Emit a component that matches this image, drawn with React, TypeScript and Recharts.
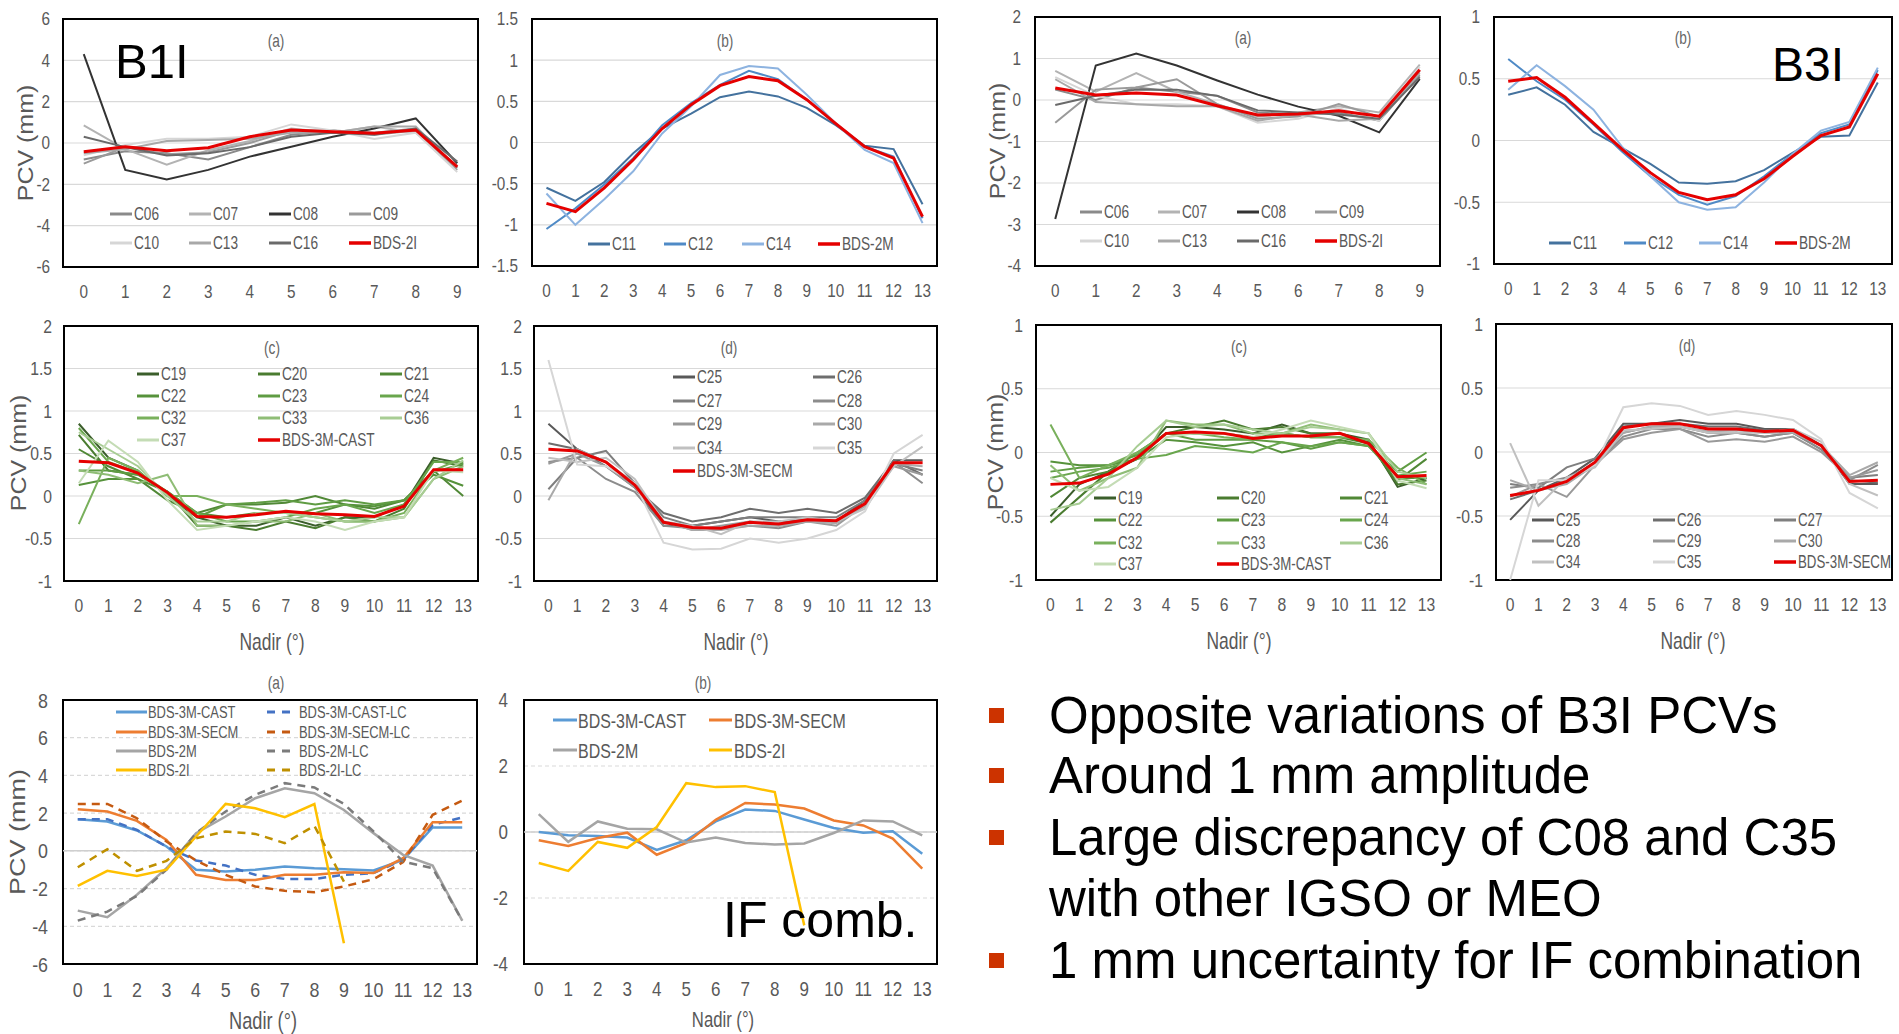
import React from 'react';
import { LineChart, Line, XAxis, YAxis, CartesianGrid, ReferenceArea, ReferenceLine } from 'recharts';

const FONT = '"Liberation Sans", Arial, "DejaVu Sans", sans-serif';
const SQ = 0.76; // horizontal squash of chart texts
const SQT = 0.85; // squash for tick digits
const RED = '#e50000';
const TXT = '#595959';

// categories (nadir angle, degrees)
const nadir10 = [0, 1, 2, 3, 4, 5, 6, 7, 8, 9];
const nadir14 = [0, 1, 2, 3, 4, 5, 6, 7, 8, 9, 10, 11, 12, 13];

// y tick labels
const ticksB1a = [-6, -4, -2, 0, 2, 4, 6];
const ticksB1b = [-1.5, -1, -0.5, 0, 0.5, 1, 1.5];
const ticksB3a = [-4, -3, -2, -1, 0, 1, 2];
const ticksPm1 = [-1, -0.5, 0, 0.5, 1];
const ticksM1to2 = [-1, -0.5, 0, 0.5, 1, 1.5, 2];
const ticksIFa = [-6, -4, -2, 0, 2, 4, 6, 8];
const ticksIFb = [-4, -2, 0, 2, 4];

// ---- B1I (a) IGSO ----
const b1a_C06 = [-0.8, -0.4, -0.5, -0.8, -0.2, 0.4, 0.6, 0.5, 0.7, -1.2];
const b1a_C07 = [0.85, -0.3, -1.05, -0.35, 0.1, 0.7, 0.5, 0.8, 0.5, -1.1];
const b1a_C08 = [4.3, -1.3, -1.76, -1.3, -0.66, -0.18, 0.3, 0.7, 1.19, -0.98];
const b1a_C09 = [-1.0, -0.2, -0.55, -0.45, 0.0, 0.6, 0.6, 0.4, 0.6, -1.3];
const b1a_C10 = [-0.6, -0.1, 0.2, 0.2, 0.3, 0.9, 0.6, 0.2, 0.5, -1.4];
const b1a_C13 = [-0.5, -0.3, 0.1, 0.15, 0.2, 0.5, 0.5, 0.8, 0.8, -1.2];
const b1a_C16 = [0.3, -0.2, -0.6, -0.5, -0.2, 0.3, 0.5, 0.4, 0.7, -0.9];
const b1a_BDS2I = [-0.42, -0.18, -0.37, -0.23, 0.3, 0.63, 0.55, 0.47, 0.63, -1.15];

// ---- B1I (b) MEO ----
const b1b_C11 = [-0.55, -0.71, -0.48, -0.13, 0.17, 0.35, 0.55, 0.62, 0.56, 0.42, 0.21, -0.04, -0.08, -0.75];
const b1b_C12 = [-1.05, -0.8, -0.51, -0.19, 0.21, 0.48, 0.7, 0.87, 0.77, 0.52, 0.23, -0.05, -0.17, -0.92];
const b1b_C14 = [-0.62, -1.0, -0.69, -0.35, 0.11, 0.44, 0.82, 0.93, 0.9, 0.58, 0.23, -0.09, -0.25, -0.98];
const b1b_BDS2M = [-0.74, -0.84, -0.55, -0.21, 0.17, 0.46, 0.69, 0.8, 0.75, 0.52, 0.23, -0.05, -0.19, -0.9];

// ---- B3I (a) IGSO ----
const b3a_C06 = [0.25, 0.0, 0.3, 0.2, 0.1, -0.3, -0.35, -0.3, -0.5, 0.6];
const b3a_C07 = [0.7, 0.2, 0.65, 0.2, -0.1, -0.4, -0.3, -0.15, -0.3, 0.85];
const b3a_C08 = [-2.87, 0.83, 1.12, 0.83, 0.47, 0.13, -0.16, -0.38, -0.78, 0.51];
const b3a_C09 = [-0.55, 0.25, 0.3, 0.5, -0.1, -0.45, -0.4, -0.1, -0.4, 0.7];
const b3a_C10 = [0.55, 0.1, -0.1, -0.1, -0.15, -0.55, -0.45, -0.2, -0.5, 0.8];
const b3a_C13 = [0.5, -0.05, -0.1, -0.15, -0.15, -0.5, -0.35, -0.5, -0.45, 0.65];
const b3a_C16 = [-0.12, 0.1, 0.25, 0.25, 0.1, -0.25, -0.3, -0.35, -0.45, 0.55];
const b3a_BDS2I = [0.29, 0.12, 0.17, 0.12, -0.14, -0.36, -0.34, -0.26, -0.39, 0.73];

// ---- B3I (b) MEO ----
const b3b_C11 = [0.37, 0.43, 0.29, 0.07, -0.06, -0.19, -0.34, -0.35, -0.33, -0.24, -0.1, 0.03, 0.04, 0.47];
const b3b_C12 = [0.66, 0.48, 0.33, 0.13, -0.09, -0.29, -0.44, -0.52, -0.45, -0.29, -0.11, 0.06, 0.13, 0.57];
const b3b_C14 = [0.41, 0.61, 0.44, 0.25, -0.05, -0.29, -0.5, -0.56, -0.54, -0.34, -0.11, 0.08, 0.15, 0.59];
const b3b_BDS2M = [0.48, 0.51, 0.35, 0.14, -0.07, -0.26, -0.42, -0.48, -0.44, -0.31, -0.13, 0.04, 0.11, 0.54];

// ---- B1I (c) BDS-3 CAST ----
const b1c_C19 = [0.85, 0.45, 0.3, 0.0, -0.25, -0.35, -0.35, -0.25, -0.35, -0.25, -0.25, -0.1, 0.45, 0.38];
const b1c_C20 = [0.72, 0.3, 0.25, 0.05, -0.35, -0.35, -0.4, -0.3, -0.38, -0.25, -0.3, -0.15, 0.42, 0.35];
const b1c_C21 = [0.55, 0.35, 0.2, -0.05, -0.2, -0.1, -0.1, -0.08, 0.0, -0.1, -0.15, -0.05, 0.3, 0.0];
const b1c_C22 = [0.13, 0.2, 0.2, 0.05, -0.2, -0.25, -0.2, -0.2, -0.2, -0.1, -0.12, -0.05, 0.25, 0.12];
const b1c_C23 = [0.3, 0.3, 0.25, 0.05, -0.25, -0.1, -0.08, -0.05, -0.1, -0.05, -0.1, -0.05, 0.28, 0.38];
const b1c_C24 = [0.8, 0.4, 0.28, 0.05, -0.2, -0.3, -0.3, -0.25, -0.15, -0.1, -0.2, -0.1, 0.4, 0.4];
const b1c_C32 = [-0.33, 0.45, 0.3, 0.0, 0.0, -0.1, -0.15, -0.2, -0.25, -0.3, -0.3, -0.2, 0.3, 0.45];
const b1c_C33 = [0.3, 0.25, 0.15, 0.25, -0.35, -0.35, -0.3, -0.3, -0.2, -0.3, -0.3, -0.25, 0.2, 0.35];
const b1c_C36 = [0.75, 0.55, 0.35, 0.0, -0.3, -0.3, -0.2, -0.2, -0.25, -0.3, -0.25, -0.25, 0.2, 0.42];
const b1c_C37 = [0.15, 0.65, 0.4, -0.05, -0.4, -0.35, -0.3, -0.25, -0.3, -0.4, -0.3, -0.25, 0.3, 0.28];
const b1c_CAST = [0.41, 0.39, 0.27, 0.04, -0.24, -0.25, -0.22, -0.18, -0.21, -0.22, -0.24, -0.12, 0.31, 0.31];

// ---- B1I (d) BDS-3 SECM ----
const b1d_C25 = [0.85, 0.55, 0.4, 0.1, -0.35, -0.35, -0.3, -0.25, -0.3, -0.28, -0.3, -0.05, 0.42, 0.42];
const b1d_C26 = [0.62, 0.55, 0.35, 0.1, -0.2, -0.3, -0.25, -0.15, -0.2, -0.15, -0.2, -0.02, 0.42, 0.25];
const b1d_C27 = [0.08, 0.45, 0.53, 0.15, -0.25, -0.35, -0.3, -0.25, -0.25, -0.25, -0.25, -0.05, 0.38, 0.3];
const b1d_C28 = [0.4, 0.45, 0.2, 0.05, -0.35, -0.38, -0.38, -0.35, -0.38, -0.3, -0.3, -0.1, 0.4, 0.15];
const b1d_C29 = [0.38, 0.5, 0.35, 0.1, -0.3, -0.4, -0.35, -0.3, -0.35, -0.3, -0.35, -0.1, 0.35, 0.25];
const b1d_C30 = [-0.05, 0.55, 0.4, 0.15, -0.3, -0.4, -0.4, -0.35, -0.35, -0.3, -0.32, -0.12, 0.38, 0.35];
const b1d_C34 = [0.45, 0.4, 0.45, 0.2, -0.3, -0.35, -0.45, -0.3, -0.3, -0.25, -0.3, -0.15, 0.35, 0.58];
const b1d_C35 = [1.6, 0.37, 0.35, 0.15, -0.55, -0.63, -0.62, -0.5, -0.55, -0.5, -0.4, -0.18, 0.5, 0.72];
const b1d_SECM = [0.55, 0.53, 0.4, 0.13, -0.31, -0.37, -0.38, -0.31, -0.33, -0.28, -0.29, -0.09, 0.39, 0.39];

// ---- B3I (c) BDS-3 CAST ----
const b3c_C19 = [-0.5, -0.25, -0.15, -0.05, 0.2, 0.2, 0.18, 0.15, 0.22, 0.15, 0.15, 0.1, -0.27, -0.2];
const b3c_C20 = [-0.55, -0.35, -0.15, 0.0, 0.15, 0.2, 0.25, 0.18, 0.2, 0.15, 0.15, 0.08, -0.25, -0.22];
const b3c_C21 = [-0.35, -0.2, -0.15, -0.05, 0.15, 0.15, 0.15, 0.12, 0.15, 0.12, 0.12, 0.07, -0.22, -0.05];
const b3c_C22 = [-0.07, -0.1, -0.1, -0.05, 0.1, 0.08, 0.05, 0.08, 0.0, 0.05, 0.1, 0.05, -0.2, -0.2];
const b3c_C23 = [-0.15, -0.12, -0.1, -0.02, 0.15, 0.1, 0.1, 0.1, 0.08, 0.03, 0.08, 0.05, -0.15, 0.0];
const b3c_C24 = [-0.2, -0.15, -0.12, -0.05, -0.02, 0.05, 0.03, 0.0, 0.08, 0.05, 0.08, 0.05, -0.18, -0.15];
const b3c_C32 = [0.22, -0.2, -0.1, 0.0, 0.15, 0.15, 0.12, 0.1, 0.15, 0.12, 0.12, 0.1, -0.12, -0.25];
const b3c_C33 = [-0.1, -0.3, -0.2, -0.12, 0.25, 0.22, 0.22, 0.15, 0.15, 0.22, 0.18, 0.15, -0.2, -0.25];
const b3c_C36 = [-0.45, -0.4, -0.2, 0.05, 0.25, 0.2, 0.22, 0.18, 0.15, 0.2, 0.18, 0.15, -0.15, -0.2];
const b3c_C37 = [-0.2, -0.3, -0.27, -0.12, 0.12, 0.15, 0.15, 0.12, 0.18, 0.25, 0.2, 0.15, -0.22, -0.28];
const b3c_CAST = [-0.25, -0.24, -0.17, -0.04, 0.15, 0.16, 0.15, 0.11, 0.13, 0.13, 0.15, 0.07, -0.19, -0.18];

// ---- B3I (d) BDS-3 SECM ----
const b3d_C25 = [-0.53, -0.3, -0.2, -0.05, 0.22, 0.22, 0.25, 0.22, 0.22, 0.18, 0.18, 0.05, -0.25, -0.25];
const b3d_C26 = [-0.37, -0.3, -0.22, -0.08, 0.2, 0.22, 0.22, 0.2, 0.2, 0.17, 0.18, 0.05, -0.22, -0.24];
const b3d_C27 = [-0.25, -0.28, -0.12, -0.05, 0.15, 0.2, 0.2, 0.15, 0.15, 0.12, 0.15, 0.02, -0.2, -0.18];
const b3d_C28 = [-0.28, -0.25, -0.2, -0.1, 0.12, 0.18, 0.18, 0.12, 0.15, 0.12, 0.15, 0.02, -0.22, -0.1];
const b3d_C29 = [-0.35, -0.25, -0.35, -0.1, 0.1, 0.15, 0.18, 0.08, 0.1, 0.08, 0.12, 0.0, -0.2, -0.14];
const b3d_C30 = [-0.22, -0.3, -0.25, -0.1, 0.15, 0.2, 0.2, 0.16, 0.17, 0.15, 0.15, 0.05, -0.18, -0.08];
const b3d_C34 = [0.07, -0.42, -0.2, -0.12, 0.17, 0.18, 0.2, 0.15, 0.15, 0.15, 0.18, 0.08, -0.25, -0.34];
const b3d_C35 = [-1.0, -0.22, -0.22, -0.1, 0.35, 0.38, 0.36, 0.29, 0.32, 0.29, 0.25, 0.1, -0.32, -0.44];
const b3d_SECM = [-0.34, -0.3, -0.23, -0.08, 0.19, 0.22, 0.22, 0.18, 0.18, 0.16, 0.17, 0.05, -0.23, -0.22];

// ---- IF (a) ----
const ifa_CAST = [1.68, 1.56, 1.08, 0.23, -1.0, -1.1, -1.0, -0.83, -0.92, -0.97, -1.04, -0.48, 1.24, 1.24];
const ifa_CAST_LC = [1.68, 1.68, 1.11, 0.23, -0.51, -0.78, -1.27, -1.49, -1.49, -1.27, -1.18, -0.48, 1.38, 1.77];
const ifa_SECM = [2.21, 2.09, 1.59, 0.58, -1.27, -1.54, -1.54, -1.27, -1.27, -1.13, -1.18, -0.39, 1.52, 1.52];
const ifa_SECM_LC = [2.49, 2.49, 1.73, 0.5, -0.51, -1.27, -1.89, -2.12, -2.19, -1.89, -1.5, -0.6, 1.91, 2.67];
const ifa_2M = [-3.17, -3.52, -2.33, -0.92, 0.94, 1.82, 2.79, 3.32, 3.06, 2.17, 0.94, -0.21, -0.78, -3.7];
const ifa_2M_LC = [-3.7, -3.22, -2.39, -1.0, 0.94, 2.09, 2.97, 3.59, 3.36, 2.49, 1.03, -0.57, -0.92, -3.7];
const ifa_2I = [-1.86, -1.06, -1.33, -1.0, 0.76, 2.49, 2.26, 1.79, 2.48, -4.9, null, null, null, null];
const ifa_2I_LC = [-0.87, 0.09, -1.06, -0.53, 0.67, 1.03, 0.9, 0.41, 1.33, -1.63, null, null, null, null];

// ---- IF (b) ----
const ifb_CAST = [0.0, -0.1, -0.12, -0.17, -0.54, -0.25, 0.32, 0.68, 0.64, 0.38, 0.12, -0.02, 0.02, -0.66];
const ifb_SECM = [-0.25, -0.42, -0.18, -0.02, -0.69, -0.33, 0.37, 0.88, 0.83, 0.71, 0.35, 0.2, -0.2, -1.11];
const ifb_2M = [0.54, -0.3, 0.32, 0.1, 0.08, -0.32, -0.17, -0.33, -0.38, -0.35, -0.03, 0.35, 0.32, -0.1];
const ifb_2I = [-0.94, -1.18, -0.3, -0.48, 0.15, 1.48, 1.36, 1.39, 1.21, -2.83, null, null, null, null];

type Series = { name: string; data: (number | null)[]; color: string; w?: number; dash?: string };

const gIGSO = ['#8a8a8a', '#b3b3b3', '#333333', '#9a9a9a', '#d6d6d6', '#a8a8a8', '#6a6a6a'];
const namesIGSO = ['C06', 'C07', 'C08', 'C09', 'C10', 'C13', 'C16'];
const mk = (names: string[], datas: (number | null)[][], colors: string[], w = 2): Series[] =>
  names.map((n, i) => ({ name: n, data: datas[i], color: colors[i], w }));

const sB1a: Series[] = [
  ...mk(namesIGSO, [b1a_C06, b1a_C07, b1a_C08, b1a_C09, b1a_C10, b1a_C13, b1a_C16], gIGSO),
  { name: 'BDS-2I', data: b1a_BDS2I, color: RED, w: 3 },
];
const sB3a: Series[] = [
  ...mk(namesIGSO, [b3a_C06, b3a_C07, b3a_C08, b3a_C09, b3a_C10, b3a_C13, b3a_C16], gIGSO),
  { name: 'BDS-2I', data: b3a_BDS2I, color: RED, w: 3 },
];
const blues = ['#44729e', '#4f8ac6', '#8db3e0'];
const sB1b: Series[] = [
  ...mk(['C11', 'C12', 'C14'], [b1b_C11, b1b_C12, b1b_C14], blues),
  { name: 'BDS-2M', data: b1b_BDS2M, color: RED, w: 3 },
];
const sB3b: Series[] = [
  ...mk(['C11', 'C12', 'C14'], [b3b_C11, b3b_C12, b3b_C14], blues),
  { name: 'BDS-2M', data: b3b_BDS2M, color: RED, w: 3 },
];
const greens = ['#3b5e2b', '#4a7c30', '#508836', '#56923b', '#5f9c43', '#69a64d', '#79b05c', '#8fbd76', '#a8cd94', '#c4dcb5'];
const namesCAST = ['C19', 'C20', 'C21', 'C22', 'C23', 'C24', 'C32', 'C33', 'C36', 'C37'];
const sB1c: Series[] = [
  ...mk(namesCAST, [b1c_C19, b1c_C20, b1c_C21, b1c_C22, b1c_C23, b1c_C24, b1c_C32, b1c_C33, b1c_C36, b1c_C37], greens),
  { name: 'BDS-3M-CAST', data: b1c_CAST, color: RED, w: 3 },
];
const sB3c: Series[] = [
  ...mk(namesCAST, [b3c_C19, b3c_C20, b3c_C21, b3c_C22, b3c_C23, b3c_C24, b3c_C32, b3c_C33, b3c_C36, b3c_C37], greens),
  { name: 'BDS-3M-CAST', data: b3c_CAST, color: RED, w: 3 },
];
const grays = ['#595959', '#6e6e6e', '#7f7f7f', '#8c8c8c', '#999999', '#a9a9a9', '#c0c0c0', '#d6d6d6'];
const namesSECM = ['C25', 'C26', 'C27', 'C28', 'C29', 'C30', 'C34', 'C35'];
const sB1d: Series[] = [
  ...mk(namesSECM, [b1d_C25, b1d_C26, b1d_C27, b1d_C28, b1d_C29, b1d_C30, b1d_C34, b1d_C35], grays),
  { name: 'BDS-3M-SECM', data: b1d_SECM, color: RED, w: 3 },
];
const sB3d: Series[] = [
  ...mk(namesSECM, [b3d_C25, b3d_C26, b3d_C27, b3d_C28, b3d_C29, b3d_C30, b3d_C34, b3d_C35], grays),
  { name: 'BDS-3M-SECM', data: b3d_SECM, color: RED, w: 3 },
];
const DASH = '8 6';
const sIFa: Series[] = [
  { name: 'BDS-3M-CAST', data: ifa_CAST, color: '#5b9bd5', w: 2.5 },
  { name: 'BDS-3M-CAST-LC', data: ifa_CAST_LC, color: '#4472c4', w: 2.5, dash: DASH },
  { name: 'BDS-3M-SECM', data: ifa_SECM, color: '#ed7d31', w: 2.5 },
  { name: 'BDS-3M-SECM-LC', data: ifa_SECM_LC, color: '#c55a11', w: 2.5, dash: DASH },
  { name: 'BDS-2M', data: ifa_2M, color: '#a5a5a5', w: 2.5 },
  { name: 'BDS-2M-LC', data: ifa_2M_LC, color: '#7b7b7b', w: 2.5, dash: DASH },
  { name: 'BDS-2I', data: ifa_2I, color: '#ffc000', w: 2.5 },
  { name: 'BDS-2I-LC', data: ifa_2I_LC, color: '#bf9000', w: 2.5, dash: DASH },
];
const sIFb: Series[] = [
  { name: 'BDS-3M-CAST', data: ifb_CAST, color: '#5b9bd5', w: 2.5 },
  { name: 'BDS-3M-SECM', data: ifb_SECM, color: '#ed7d31', w: 2.5 },
  { name: 'BDS-2M', data: ifb_2M, color: '#a5a5a5', w: 2.5 },
  { name: 'BDS-2I', data: ifb_2I, color: '#ffc000', w: 2.5 },
];

type LegCol = { x: number; len: number; tx: number };
type PanelCfg = {
  box: [number, number, number, number];
  cats: number[];
  yDomain: [number, number];
  yTicks: number[];
  series: Series[];
  tf: number;
  ym: number;
  dashed?: boolean;
  legCols: LegCol[];
  legRows: number[];
  legFs: number;
  legW?: number;
};

const lc = (xs: number[], len = 22, tx = 24): LegCol[] => xs.map((x) => ({ x, len, tx }));

const panels: PanelCfg[] = [
  { box: [63, 19, 478, 267], cats: nadir10, yDomain: [-6, 6], yTicks: ticksB1a, series: sB1a, tf: 18, ym: 13,
    legCols: lc([110, 189, 269, 349]), legRows: [214, 243], legFs: 18 },
  { box: [532, 19, 937, 266], cats: nadir14, yDomain: [-1.5, 1.5], yTicks: ticksB1b, series: sB1b, tf: 18, ym: 14,
    legCols: lc([588, 664, 742, 818]), legRows: [244], legFs: 18 },
  { box: [1035, 17, 1440, 266], cats: nadir10, yDomain: [-4, 2], yTicks: ticksB3a, series: sB3a, tf: 18, ym: 14,
    legCols: lc([1080, 1158, 1237, 1315]), legRows: [212, 241], legFs: 18 },
  { box: [1494, 17, 1892, 264], cats: nadir14, yDomain: [-1, 1], yTicks: ticksPm1, series: sB3b, tf: 18, ym: 14,
    legCols: lc([1549, 1624, 1699, 1775]), legRows: [243], legFs: 18 },
  { box: [64, 326, 478, 581], cats: nadir14, yDomain: [-1, 2], yTicks: ticksM1to2, series: sB1c, tf: 18.5, ym: 12,
    legCols: lc([137, 258, 380]), legRows: [374, 396, 418, 440], legFs: 18 },
  { box: [534, 326, 937, 581], cats: nadir14, yDomain: [-1, 2], yTicks: ticksM1to2, series: sB1d, tf: 18.5, ym: 12,
    legCols: lc([673, 813]), legRows: [377, 401, 424, 448, 471], legFs: 18 },
  { box: [1036, 325, 1441, 580], cats: nadir14, yDomain: [-1, 1], yTicks: ticksPm1, series: sB3c, tf: 18.5, ym: 13,
    legCols: lc([1094, 1217, 1340]), legRows: [498, 520, 543, 564], legFs: 17.5 },
  { box: [1496, 324, 1892, 580], cats: nadir14, yDomain: [-1, 1], yTicks: ticksPm1, series: sB3d, tf: 18.5, ym: 13,
    legCols: lc([1532, 1653, 1774]), legRows: [520, 541, 562], legFs: 17.5 },
  { box: [63, 700, 477, 964], cats: nadir14, yDomain: [-6, 8], yTicks: ticksIFa, series: sIFa, tf: 21, ym: 15, dashed: true,
    legCols: [{ x: 116, len: 31, tx: 32 }, { x: 267, len: 23, tx: 32 }], legRows: [712, 732, 751, 770], legFs: 17 },
  { box: [524, 700, 937, 964], cats: nadir14, yDomain: [-4, 4], yTicks: ticksIFb, series: sIFb, tf: 20, ym: 16, dashed: true,
    legCols: [{ x: 553, len: 24, tx: 25 }, { x: 709, len: 23, tx: 25 }], legRows: [720, 750], legFs: 21 },
];

const fmt = (v: number) => String(v);

function Panel({ cfg }: { cfg: PanelCfg }) {
  const [L, T, R, B] = cfg.box;
  const padL = 70, padT = 12, padR = 12, padB = 60;
  const n = cfg.cats.length;
  const rows = cfg.cats.map((c, i) => {
    const r: Record<string, number | null> = { x: c };
    cfg.series.forEach((s, j) => {
      const v = s.data[i];
      r['s' + j] = v === undefined ? null : v;
    });
    return r;
  });
  const xTick = (p: any) => (
    <text transform={`translate(${p.x},${p.y}) scale(${SQT},1)`} textAnchor="middle" dy="0.71em"
      fontSize={cfg.tf} fill={TXT} fontFamily={FONT}>{fmt(p.payload.value)}</text>
  );
  const yTick = (p: any) => (
    <text transform={`translate(${p.x},${p.y}) scale(${SQT},1)`} textAnchor="end" dy="0.36em"
      fontSize={cfg.tf} fill={TXT} fontFamily={FONT}>{fmt(p.payload.value)}</text>
  );
  return (
    <div style={{ position: 'absolute', left: L - padL, top: T - padT }}>
      <LineChart width={R - L + padL + padR} height={B - T + padT + padB} data={rows}
        margin={{ top: padT, right: padR, left: 0, bottom: 0 }}>
        <CartesianGrid vertical={false} stroke="#d9d9d9" strokeWidth={1.2}
          strokeDasharray={cfg.dashed ? '4 3' : undefined} />
        {cfg.dashed && <ReferenceLine y={0} stroke="#cfcfcf" strokeWidth={1.5} />}
        <XAxis type="number" dataKey="x" domain={[-0.5, n - 0.5]} ticks={cfg.cats} interval={0}
          height={padB} axisLine={false} tickLine={false} tickSize={0} tickMargin={18} tick={xTick} />
        <YAxis type="number" domain={cfg.yDomain} ticks={cfg.yTicks} interval={0} width={padL}
          axisLine={false} tickLine={false} tickSize={0} tickMargin={cfg.ym} tick={yTick} />
        {cfg.series.map((s, j) => (
          <Line key={j} type="linear" dataKey={'s' + j} stroke={s.color} strokeWidth={s.w ?? 2}
            strokeDasharray={s.dash} dot={false} activeDot={false} isAnimationActive={false}
            connectNulls={false} />
        ))}
        <ReferenceArea x1={-0.5} x2={n - 0.5} y1={cfg.yDomain[0]} y2={cfg.yDomain[1]}
          fill="none" fillOpacity={0} stroke="#000" strokeWidth={2} />
      </LineChart>
    </div>
  );
}

function LegendSvg({ cfg }: { cfg: PanelCfg }) {
  const nc = cfg.legCols.length;
  return (
    <g>
      {cfg.series.map((s, i) => {
        const c = cfg.legCols[i % nc];
        const y = cfg.legRows[Math.floor(i / nc)];
        return (
          <g key={i}>
            <line x1={c.x} x2={c.x + c.len} y1={y} y2={y} stroke={s.color}
              strokeWidth={s.color === RED ? 3.5 : 3} strokeDasharray={s.dash ? '8 7' : undefined} />
            <text transform={`translate(${c.x + c.tx},${y}) scale(${SQ},1)`} dy="0.36em"
              fontSize={cfg.legFs} fill={TXT} fontFamily={FONT}>{s.name}</text>
          </g>
        );
      })}
    </g>
  );
}

const subLabels: [string, number, number][] = [
  ['(a)', 276, 41], ['(b)', 725, 41], ['(a)', 1243, 38], ['(b)', 1683, 38],
  ['(c)', 272, 348], ['(d)', 729, 348], ['(c)', 1239, 347], ['(d)', 1687, 346],
  ['(a)', 276, 683], ['(b)', 703, 683],
];
const nadirLabels: [number, number, number][] = [
  [272, 642, 23], [736, 642, 23], [1239, 641, 23], [1693, 641, 23], [263, 1020, 24], [723, 1019, 22],
];
const pcvLabels: [number, number, number][] = [
  [25, 143, 25], [997, 141, 25], [18, 453, 25], [995, 452, 25], [17, 832, 27],
];
const bullets: [string, number][] = [
  ['Opposite variations of B3I PCVs', 733],
  ['Around 1 mm amplitude', 793],
  ['Large discrepancy of C08 and C35', 855],
  ['with other IGSO or MEO', 916],
  ['1 mm uncertainty for IF combination', 978],
];
const bulletMarks = [733, 793, 855, 978];

export default function App() {
  return (
    <div style={{ position: 'absolute', left: 0, top: 0, width: 1899, height: 1034, background: '#fff', overflow: 'hidden' }}>
      {panels.map((p, i) => <Panel key={i} cfg={p} />)}
      <svg width={1899} height={1034} style={{ position: 'absolute', left: 0, top: 0, pointerEvents: 'none' }}>
        {panels.map((p, i) => <LegendSvg key={i} cfg={p} />)}
        {subLabels.map(([t, x, y], i) => (
          <text key={'s' + i} transform={`translate(${x},${y}) scale(${SQ},1)`} textAnchor="middle" dy="0.36em"
            fontSize={18} fill="#666" fontFamily={FONT}>{t}</text>
        ))}
        {nadirLabels.map(([x, y, fs], i) => (
          <text key={'n' + i} transform={`translate(${x},${y}) scale(${SQ},1)`} textAnchor="middle" dy="0.36em"
            fontSize={fs} fill={TXT} fontFamily={FONT}>Nadir (°)</text>
        ))}
        {pcvLabels.map(([x, y, fs], i) => (
          <text key={'p' + i} transform={`translate(${x},${y}) rotate(-90) scale(1,0.85)`} textAnchor="middle" dy="0.36em"
            fontSize={fs} fill={TXT} fontFamily={FONT}>PCV (mm)</text>
        ))}
        <text x={115} y={78} fontSize={49} fill="#000" fontFamily={FONT}>B1I</text>
        <text x={1772} y={81} fontSize={48} fill="#000" fontFamily={FONT}>B3I</text>
        <text x={723} y={937} fontSize={50} fill="#000" fontFamily={FONT}>IF comb.</text>
        {bullets.map(([t, y], i) => (
          <text key={'b' + i} x={1049} y={y} fontSize={51} fill="#000" fontFamily={FONT}>{t}</text>
        ))}
        {bulletMarks.map((y, i) => (
          <rect key={'m' + i} x={989} y={y - 25} width={15} height={15} fill="#cc3300" />
        ))}
      </svg>
    </div>
  );
}
